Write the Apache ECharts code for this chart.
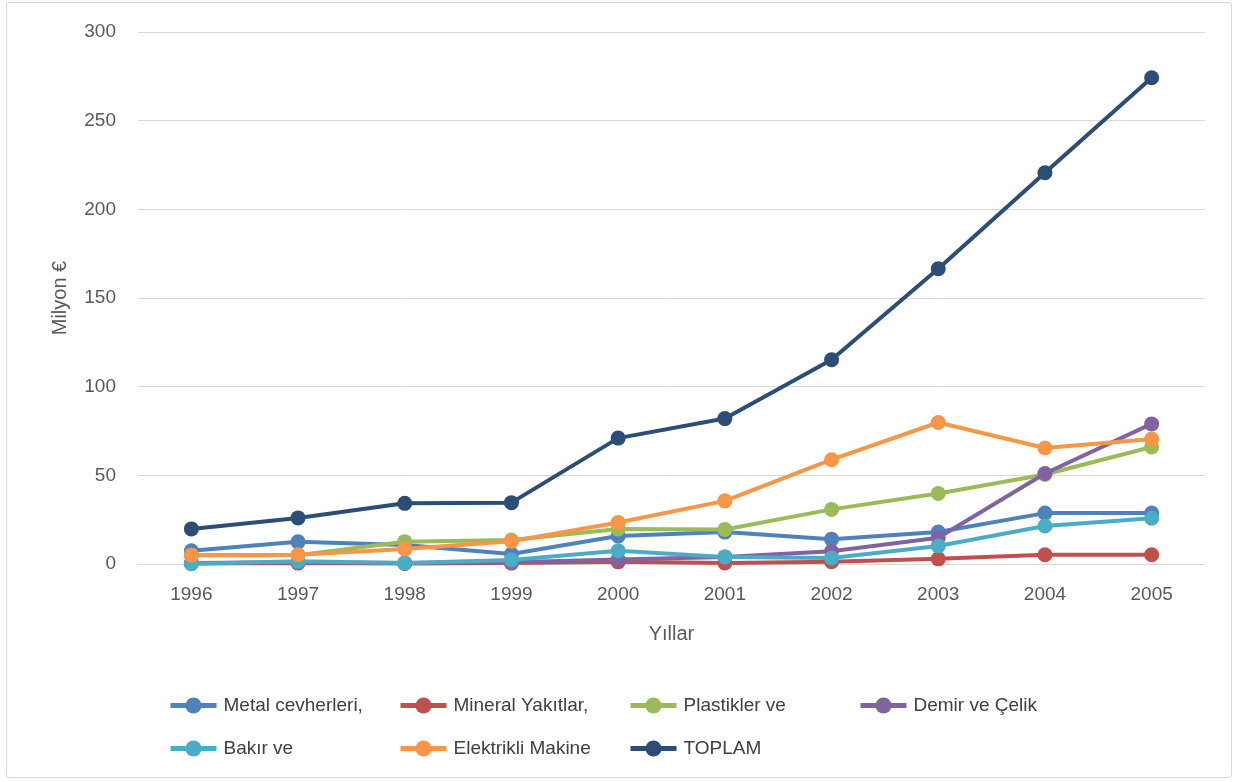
<!DOCTYPE html>
<html><head><meta charset="utf-8">
<script src="https://cdn.jsdelivr.net/npm/echarts@6/dist/echarts.min.js"></script>
<style>html,body{margin:0;padding:0;background:#fff}
#c{position:absolute;left:6px;top:2px;width:1226px;height:776px;border:1px solid #d9d9d9;border-radius:3px;box-sizing:border-box}
#m{position:absolute;left:0;top:0;width:1239px;height:782px}</style>
</head><body><div id="c"></div><div id="m"></div>
<script>
const years = ['1996','1997','1998','1999','2000','2001','2002','2003','2004','2005'];
const metal = [7.5, 12.5, 10.7, 5.6, 15.8, 18, 14, 18, 28.7, 28.7];
const mineral = [0.3, 0.5, 0.3, 0.5, 1.2, 0.6, 1.3, 2.9, 5.2, 5.2];
const plastik = [5, 5, 12.6, 13.5, 19.8, 19.5, 30.8, 39.8, 50.5, 66];
const demir = [0.5, 1, 0.5, 1, 2.5, 4, 7.2, 14.8, 51, 79];
const bakir = [0.2, 1.5, 0.5, 2.3, 7.5, 4, 3.4, 10.2, 21.4, 25.8];
const elektrik = [5, 5.2, 8.4, 12.8, 23.4, 35.6, 58.8, 79.8, 65.4, 70.5];
const toplam = [19.8, 26, 34.2, 34.6, 71, 82, 115.2, 166.5, 220.6, 274.2];
const names = ['Metal cevherleri,','Mineral Yakıtlar,','Plastikler ve','Demir ve Çelik','Bakır ve','Elektrikli Makine','TOPLAM'];
const colors = ['#4F81BD','#C0504D','#9BBB59','#8064A2','#4BACC6','#F79646','#2C4D75'];
const datas = [metal, mineral, plastik, demir, bakir, elektrik, toplam];
const legendPos = [[168,696],[398,696],[628,696],[858,696],[168,739],[398,739],[628,739]];
const font = 'Liberation Sans, Arial, sans-serif';
const chart = echarts.init(document.getElementById('m'));
chart.setOption({
  animation:false,
  color: colors,
  grid:{left:138,right:34,top:32,bottom:218,containLabel:false},
  legend: names.map((n,i)=>({
    data:[n], left:legendPos[i][0], top:legendPos[i][1], padding:0, itemWidth:46, itemHeight:20, itemGap:4,
    lineStyle:{width:5},
    textStyle:{fontFamily:font,fontSize:19,color:'#404040',padding:[0,0,0,2]}
  })),
  xAxis:{type:'category',data:years,boundaryGap:true,
    name:'Yıllar',nameLocation:'middle',nameGap:60,nameTextStyle:{fontFamily:font,fontSize:20,color:'#595959'},
    axisLine:{lineStyle:{color:'#d9d9d9',width:1}},axisTick:{show:false},
    axisLabel:{fontFamily:font,fontSize:19,color:'#595959',margin:21}},
  yAxis:{type:'value',min:0,max:300,interval:50,
    name:'Milyon €',nameLocation:'middle',nameGap:68,nameRotate:90,nameTextStyle:{fontFamily:font,fontSize:20,color:'#595959'},
    axisLine:{show:false},axisTick:{show:false},
    splitLine:{lineStyle:{color:'#d9d9d9',width:1}},
    axisLabel:{fontFamily:font,fontSize:19,color:'#595959',margin:22}},
  series: names.map((n,i)=>({
    name:n,type:'line',data:datas[i],symbol:'circle',symbolSize:15,
    lineStyle:{width:4,color:colors[i]},itemStyle:{color:colors[i]},z:2+i
  }))
});
</script></body></html>
